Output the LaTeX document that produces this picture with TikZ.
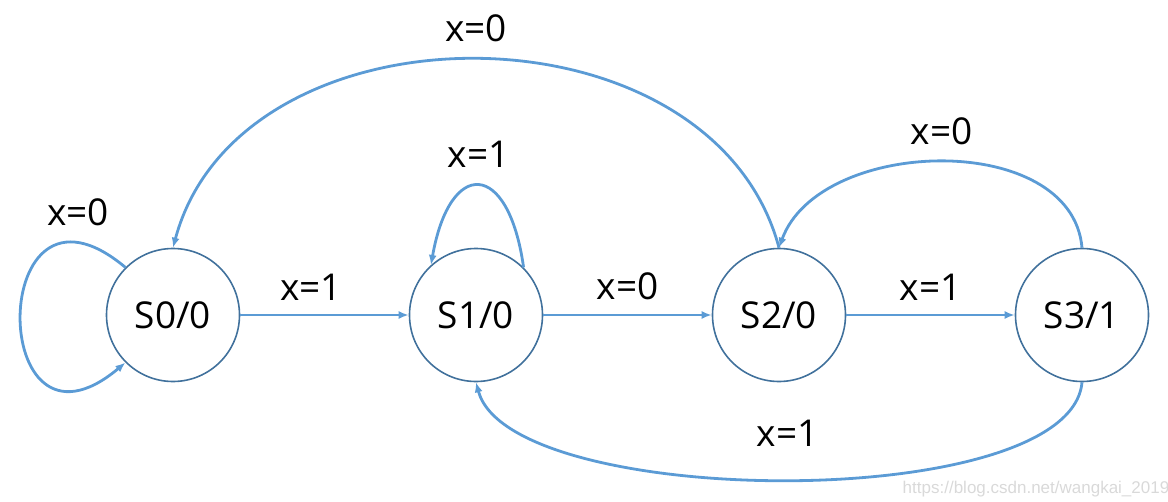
\documentclass[tikz,border=0pt]{standalone}
\usepackage{fontspec}
\setmainfont{Open Sans}
\newfontfamily\wmfont{Liberation Sans}
\usetikzlibrary{automata,arrows.meta}
\definecolor{ringblue}{HTML}{41719C}
\definecolor{edgeblue}{HTML}{5B9BD5}
\begin{document}
\begin{tikzpicture}[x=1pt,y=-1pt,>={Latex[length=10pt,width=8pt]},node distance=303pt,
  font=\fontsize{37}{40}\selectfont,
  every state/.style={draw=ringblue,line width=1.6pt,minimum size=133pt,inner sep=0pt},
  every edge/.style={draw=edgeblue,line width=2.8pt}]
\useasboundingbox (0,0) rectangle (1168,501);
\node[state] (S0) at (173,315) {S0/0};
\node[state] (S1) [right of=S0] {S1/0};
\node[state] (S2) [right of=S1] {S2/0};
\node[state] (S3) [right of=S2] {S3/1};

\path[->] (S0) edge node[pos=0.42,above=10pt] {x=1} (S1)
(S0.135) edge[out=140,in=220,looseness=4.9] node[pos=0.13,above=12pt] {x=0} (S0.225)
(S1) edge node[above=10pt] {x=0} (S2)
(S1.45) edge[out=98,in=80,looseness=3] node[above=13pt] {x=1} (S1.132)
(S2) edge node[above=10pt] {x=1} (S3)
(S2.north) edge[out=105,in=75,looseness=1.1] node[above=13pt] {x=0} (S0.north)
(S3.north) edge[out=95,in=70,looseness=1] node[above=12pt] {x=0} (S2.north)
(S3.south) edge[out=265,in=285,looseness=0.56] node[above=28pt] {x=1} (S1.south);

\node[text=gray!30,font=\wmfont\fontsize{17}{18}\selectfont] (wmark) at (1036,489) {https://blog.csdn.net/wangkai\_2019};
\end{tikzpicture}
\end{document}
